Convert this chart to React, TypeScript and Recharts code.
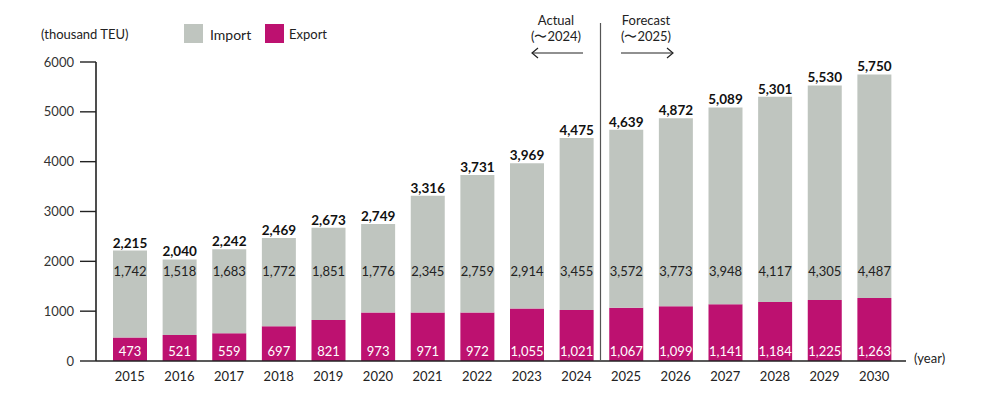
import { BarChart, Bar, XAxis, YAxis, LabelList } from "recharts";

const years = [
  "2015", "2016", "2017", "2018", "2019", "2020", "2021", "2022",
  "2023", "2024", "2025", "2026", "2027", "2028", "2029", "2030",
];
const exportValues = [473, 521, 559, 697, 821, 973, 971, 972, 1055, 1021, 1067, 1099, 1141, 1184, 1225, 1263];
const importValues = [1742, 1518, 1683, 1772, 1851, 1776, 2345, 2759, 2914, 3455, 3572, 3773, 3948, 4117, 4305, 4487];
const totals = [2215, 2040, 2242, 2469, 2673, 2749, 3316, 3731, 3969, 4475, 4639, 4872, 5089, 5301, 5530, 5750];
const yTicks = [0, 1000, 2000, 3000, 4000, 5000, 6000];

const data = years.map((year, i) => ({
  year,
  export: exportValues[i],
  import: importValues[i],
  total: totals[i],
}));

const FONT = "Lato, 'Open Sans', sans-serif";
const GRAY = "#bfc5bf";
const MAGENTA = "#bd1170";

const fmt = (v: number) => Number(v).toLocaleString("en-US");

function TotalLabel(props: any) {
  const { x, y, width, value } = props;
  return (
    <text x={Number(x) + Number(width) / 2} y={Number(y) - 8} textAnchor="middle"
      dominantBaseline="central" fontSize={13.5} fontWeight={700} fill="#111" fontFamily={FONT}>
      {fmt(value)}
    </text>
  );
}

function ImportLabel(props: any) {
  const { x, width, value } = props;
  return (
    <text x={Number(x) + Number(width) / 2} y={271} textAnchor="middle"
      dominantBaseline="central" fontSize={13} fill="#222" fontFamily={FONT}>
      {fmt(value)}
    </text>
  );
}

function ExportLabel(props: any) {
  const { x, y, width, height, value } = props;
  return (
    <text x={Number(x) + Number(width) / 2} y={Number(y) + Number(height) - 10} textAnchor="middle"
      dominantBaseline="central" fontSize={13} fill="#fff" fontFamily={FONT}>
      {fmt(value)}
    </text>
  );
}

export default function App() {
  return (
    <div style={{ position: "absolute", left: 0, top: 0, width: 992, height: 397, background: "#fff", fontFamily: FONT }}>
      <BarChart width={992} height={397} data={data}
        margin={{ top: 62, right: 86, bottom: 6, left: 0 }}>
        <XAxis dataKey="year" padding={{ left: 9, right: 7 }} height={30}
          tickLine={false} tickSize={0} tickMargin={11}
          axisLine={{ stroke: "#222", strokeWidth: 1.6 }}
          tick={{ fontSize: 13, fill: "#222", fontFamily: FONT }} />
        <YAxis width={96} domain={[0, 6000]} ticks={yTicks} interval={0}
          tickSize={16} tickMargin={6}
          tickLine={{ stroke: "#222", strokeWidth: 1.4 }}
          axisLine={{ stroke: "#222", strokeWidth: 1.6 }}
          tick={{ fontSize: 13, fill: "#333", fontFamily: FONT }} />
        <Bar dataKey="export" stackId="a" fill={MAGENTA} barSize={34} isAnimationActive={false}>
          <LabelList dataKey="export" content={ExportLabel} />
        </Bar>
        <Bar dataKey="import" stackId="a" fill={GRAY} barSize={34} isAnimationActive={false}>
          <LabelList dataKey="import" content={ImportLabel} />
          <LabelList dataKey="total" content={TotalLabel} />
        </Bar>
      </BarChart>

      <svg width={992} height={397} style={{ position: "absolute", left: 0, top: 0, pointerEvents: "none" }}>
        <text x={41} y={34} dominantBaseline="central" fontSize={13} fill="#222" fontFamily={FONT}>(thousand TEU)</text>
        <rect x={184} y={24} width={19} height={19} fill={GRAY} />
        <text x={210} y={34} dominantBaseline="central" fontSize={14} fill="#222" fontFamily={FONT}>Import</text>
        <rect x={265} y={24} width={19} height={19} fill={MAGENTA} />
        <text x={289} y={34} dominantBaseline="central" fontSize={13} fill="#222" fontFamily={FONT}>Export</text>

        <line x1={600.5} y1={23} x2={600.5} y2={360} stroke="#555" strokeWidth={1.2} />
        <text x={556} y={20} textAnchor="middle" dominantBaseline="central" fontSize={13} fill="#222" fontFamily={FONT}>Actual</text>
        <text x={556} y={36} textAnchor="middle" dominantBaseline="central" fontSize={13} fill="#222" fontFamily={FONT}>(〜2024)</text>
        <line x1={532} y1={53} x2={583} y2={53} stroke="#222" strokeWidth={1.2} />
        <polyline points="538,48 532,53 538,58" fill="none" stroke="#222" strokeWidth={1.2} />
        <text x={646} y={20} textAnchor="middle" dominantBaseline="central" fontSize={13} fill="#222" fontFamily={FONT}>Forecast</text>
        <text x={646} y={36} textAnchor="middle" dominantBaseline="central" fontSize={13} fill="#222" fontFamily={FONT}>(〜2025)</text>
        <line x1={621} y1={53} x2={673} y2={53} stroke="#222" strokeWidth={1.2} />
        <polyline points="667,48 673,53 667,58" fill="none" stroke="#222" strokeWidth={1.2} />

        <text x={914} y={358} dominantBaseline="central" fontSize={13} fill="#222" fontFamily={FONT}>(year)</text>
      </svg>
    </div>
  );
}
